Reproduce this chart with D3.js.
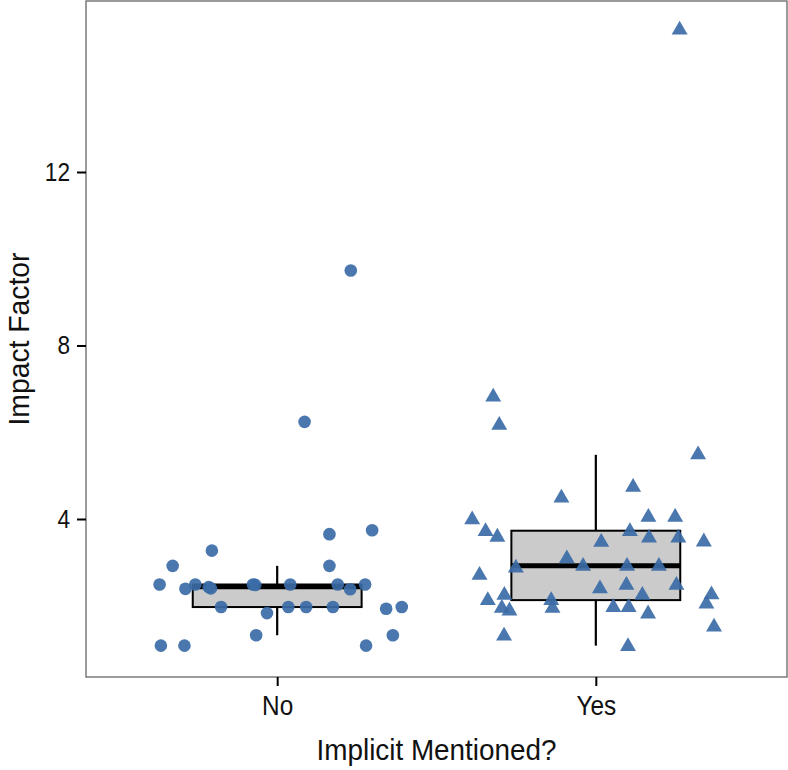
<!DOCTYPE html>
<html><head><meta charset="utf-8">
<script src="https://cdn.jsdelivr.net/npm/d3@7"></script>
<style>
body{margin:0;background:#fff;}
text{font-family:"Liberation Sans Narrow","Arial Narrow","Liberation Sans",Arial,sans-serif;}
</style></head>
<body><svg id="c" width="788" height="770"></svg>
<script>
const categories = ["No", "Yes"];
const yTicks = [4, 8, 12];
// jitter offsets (category units) and Impact Factor values
const noJitter = [-0.369,-0.328,-0.205,-0.288,-0.257,-0.215,-0.208,-0.176,-0.076,-0.069,-0.066,-0.032,0.041,0.035,0.091,0.164,0.164,0.175,0.190,0.229,0.276,0.298,0.279,0.342,0.391,0.363,-0.365,-0.291,0.231,0.086];
const noValues = [2.49,2.92,3.27,2.39,2.49,2.43,2.40,1.97,2.49,2.48,1.32,1.83,2.49,1.97,1.97,3.65,2.92,1.97,2.49,2.38,2.49,3.74,1.08,1.93,1.97,1.32,1.08,1.08,9.73,6.24];
const yesJitter = [-0.322,-0.303,0.321,0.117,-0.108,-0.388,0.165,0.249,-0.346,-0.309,0.107,0.167,0.259,0.339,0.017,-0.091,-0.251,-0.040,0.098,0.198,-0.365,0.096,0.013,0.253,-0.287,-0.339,0.146,-0.140,0.363,-0.295,-0.271,-0.136,0.055,0.103,0.347,0.164,0.371,-0.288,0.101,0.263];
const yesValues = [6.86,6.21,5.53,4.78,4.53,4.03,4.09,4.09,3.76,3.63,3.76,3.61,3.61,3.52,3.51,3.13,2.92,2.96,2.96,2.96,2.75,2.52,2.44,2.52,2.29,2.17,2.29,2.17,2.30,1.99,1.93,1.99,2.01,2.01,2.09,1.86,1.56,1.35,1.11,15.32];
// box statistics: [lower whisker, Q1, median, Q3, upper whisker]
const noBox = [1.32, 1.97, 2.44, 2.49, 2.92];
const yesBox = [1.08, 2.13, 2.92, 3.73, 5.48];

const svg = d3.select("#c");
const L = 86, R = 787, T = 1, B = 677;
const x = d3.scalePoint().domain(categories).range([L, R]).padding(0.6);
const xOff = d3.scaleLinear().domain([0, 1]).range([0, x.step()]);
const y = d3.scaleLinear().domain([0, 16]).range([692.5, 692.5 - 43.375 * 16]);
const fill = "#3B6BA6";
const boxW = 0.53;
const narrow = sel => sel.each(function () {
  const w = this.getComputedTextLength();
  d3.select(this).attr("textLength", w * 0.87).attr("lengthAdjust", "spacingAndGlyphs");
});

const groups = [
  {cat: "No", jit: noJitter, vals: noValues, box: noBox, shape: d3.symbolCircle, size: 125},
  {cat: "Yes", jit: yesJitter, vals: yesValues, box: yesBox, shape: d3.symbolTriangle, size: 110}
];

const g = svg.append("g");
groups.forEach(G => {
  const cx = x(G.cat), hw = xOff(boxW) / 2, b = G.box;
  g.append("line").attr("x1", cx).attr("x2", cx).attr("y1", y(b[0])).attr("y2", y(b[4]))
    .attr("stroke", "#000").attr("stroke-width", 2.2);
  g.append("rect").attr("x", cx - hw).attr("width", 2 * hw).attr("y", y(b[3])).attr("height", y(b[1]) - y(b[3]))
    .attr("fill", "#cbcbcb").attr("stroke", "#000").attr("stroke-width", 2);
  g.append("line").attr("x1", cx - hw).attr("x2", cx + hw).attr("y1", y(b[2])).attr("y2", y(b[2]))
    .attr("stroke", "#000").attr("stroke-width", 5);
});
groups.forEach(G => {
  const sym = d3.symbol().type(G.shape).size(G.size);
  g.selectAll(null).data(G.vals.map((v, i) => ({v, j: G.jit[i]}))).enter().append("path")
    .attr("d", sym)
    .attr("transform", d => `translate(${x(G.cat) + xOff(d.j)},${y(d.v) + (G.shape === d3.symbolTriangle ? 2 : 0)})`)
    .attr("fill", fill).attr("fill-opacity", 0.92);
});

// panel border
svg.append("rect").attr("x", L).attr("y", T).attr("width", R - L).attr("height", B - T)
  .attr("fill", "none").attr("stroke", "#666").attr("stroke-width", 1.3);

// y axis
const ya = svg.append("g").attr("transform", `translate(${L},0)`)
  .call(d3.axisLeft(y).tickValues(yTicks).tickSize(9).tickPadding(7));
ya.select(".domain").remove();
ya.selectAll("line").attr("stroke", "#000").attr("stroke-width", 2);
ya.selectAll("text").attr("font-size", 26).attr("fill", "#111").call(narrow);

// x axis
const xa = svg.append("g").attr("transform", `translate(0,${B})`)
  .call(d3.axisBottom(x).tickSize(9).tickPadding(9));
xa.select(".domain").remove();
xa.selectAll("line").attr("stroke", "#000").attr("stroke-width", 2);
xa.selectAll("text").attr("font-size", 28).attr("fill", "#111").call(narrow);

svg.append("text").attr("x", (L + R) / 2).attr("y", 760).attr("text-anchor", "middle")
  .attr("font-size", 30).attr("fill", "#111").attr("textLength", 240).attr("lengthAdjust", "spacingAndGlyphs")
  .text("Implicit Mentioned?");
svg.append("text").attr("transform", `translate(29,${(T + B) / 2}) rotate(-90)`).attr("text-anchor", "middle")
  .attr("font-size", 30).attr("fill", "#111").attr("textLength", 173).attr("lengthAdjust", "spacingAndGlyphs")
  .text("Impact Factor");
</script></body></html>
